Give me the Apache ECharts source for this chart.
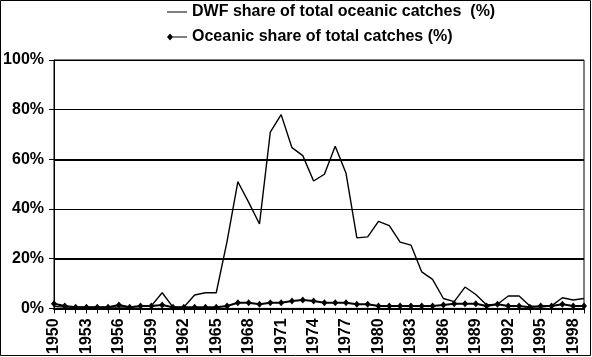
<!DOCTYPE html>
<html>
<head>
<meta charset="utf-8">
<script src="https://cdn.jsdelivr.net/npm/echarts@6/dist/echarts.min.js"></script>
<style>
html,body{margin:0;padding:0;background:#fff;}
#chart{width:592px;height:357px;}
</style>
</head>
<body>
<div id="chart"></div>
<script>
const years = [];
for (let y = 1950; y <= 1999; y++) years.push(String(y));

const dwfShare = [
  0.8, 0.5, 0.5, 0.5, 0.5, 0.5, 0.5, 0.5, 0.8, 1.0,
  6.3, 0.5, 0.5, 5.4, 6.3, 6.3, 27.0, 51.0, 42.7, 34.0,
  71.0, 78.0, 64.7, 61.5, 51.3, 54.0, 65.3, 54.4, 28.4, 28.8,
  35.0, 33.3, 26.7, 25.5, 14.7, 11.7, 4.0, 2.7, 8.6, 5.6,
  1.4, 1.7, 5.0, 5.0, 1.0, 0.5, 1.0, 4.3, 3.4, 4.0
];

const oceanicShare = [
  1.9, 1.0, 0.5, 0.5, 0.5, 0.5, 1.4, 0.5, 1.0, 1.0,
  1.4, 0.5, 0.5, 0.5, 0.5, 0.5, 1.0, 2.3, 2.3, 1.7,
  2.3, 2.3, 3.0, 3.4, 3.0, 2.3, 2.3, 2.3, 1.7, 1.7,
  1.0, 1.0, 1.0, 1.0, 1.0, 1.0, 1.4, 1.9, 1.9, 1.9,
  1.0, 1.7, 1.0, 1.0, 0.5, 1.0, 1.0, 1.7, 1.0, 1.0
];

const seriesNames = [
  'DWF share of total oceanic catches  (%)',
  'Oceanic share of total catches (%)'
];

const FONT = 'Liberation Sans, Arial, sans-serif';
const chart = echarts.init(document.getElementById('chart'), null, {renderer: 'canvas'});

chart.setOption({
  animation: false,
  backgroundColor: '#ffffff',
  textStyle: {fontFamily: FONT},
  legend: {
    orient: 'vertical',
    left: 162,
    top: -1,
    itemWidth: 20,
    itemHeight: 10,
    itemGap: 9,
    textStyle: {fontFamily: FONT, fontSize: 16, fontWeight: 'bold', color: '#000', lineHeight: 16},
    data: [
      {name: seriesNames[0], icon: 'path://M0,4.5 L20,4.5 L20,5.5 L0,5.5 Z'},
      {name: seriesNames[1], icon: 'path://M0,5 L3,1.5 L6,5 L3,8.5 Z M3,4.4 L20,4.4 L20,5.6 L3,5.6 Z'}
    ]
  },
  grid: {
    left: 54, right: 8, top: 60, bottom: 46,
    show: true, borderColor: '#000', borderWidth: 1, backgroundColor: 'transparent'
  },
  xAxis: {
    type: 'category',
    data: years,
    boundaryGap: false,
    axisLine: {lineStyle: {color: '#000', width: 2}},
    axisTick: {show: true, interval: 0, length: 5, lineStyle: {color: '#000', width: 1}},
    axisLabel: {
      interval: 2, rotate: 90, margin: 10,
      fontFamily: FONT, fontSize: 16, fontWeight: 'bold', color: '#000'
    },
    splitLine: {show: false}
  },
  yAxis: {
    type: 'value',
    min: 0, max: 100, interval: 20,
    axisLine: {show: true, lineStyle: {color: '#000', width: 1}},
    axisTick: {show: true, length: 5, lineStyle: {color: '#000'}},
    axisLabel: {formatter: '{value}%', margin: 10, fontFamily: FONT, fontSize: 16, fontWeight: 'bold', color: '#000'},
    splitLine: {show: true, lineStyle: {color: '#000', width: 1}}
  },
  series: [
    {
      name: seriesNames[0],
      type: 'line',
      data: dwfShare,
      symbol: 'none',
      lineStyle: {color: '#000', width: 1.4},
      itemStyle: {color: '#000'},
      markLine: {
        silent: true,
        symbol: 'none',
        label: {show: false},
        lineStyle: {color: '#000', width: 2, type: 'solid'},
        data: [{yAxis: 20}, {yAxis: 60}]
      }
    },
    {
      name: seriesNames[1],
      type: 'line',
      data: oceanicShare,
      symbol: 'diamond',
      symbolSize: [6, 7],
      showSymbol: true,
      lineStyle: {color: '#000', width: 2},
      itemStyle: {color: '#000'}
    }
  ],
  graphic: [{
    type: 'rect',
    z: 100,
    shape: {x: 0.5, y: 0.5, width: 590, height: 355},
    style: {fill: 'none', stroke: '#000', lineWidth: 1}
  }, {
    type: 'rect',
    z: 99,
    shape: {x: 0, y: 356, width: 592, height: 1},
    style: {fill: '#fff'}
  }]
});
</script>
</body>
</html>
